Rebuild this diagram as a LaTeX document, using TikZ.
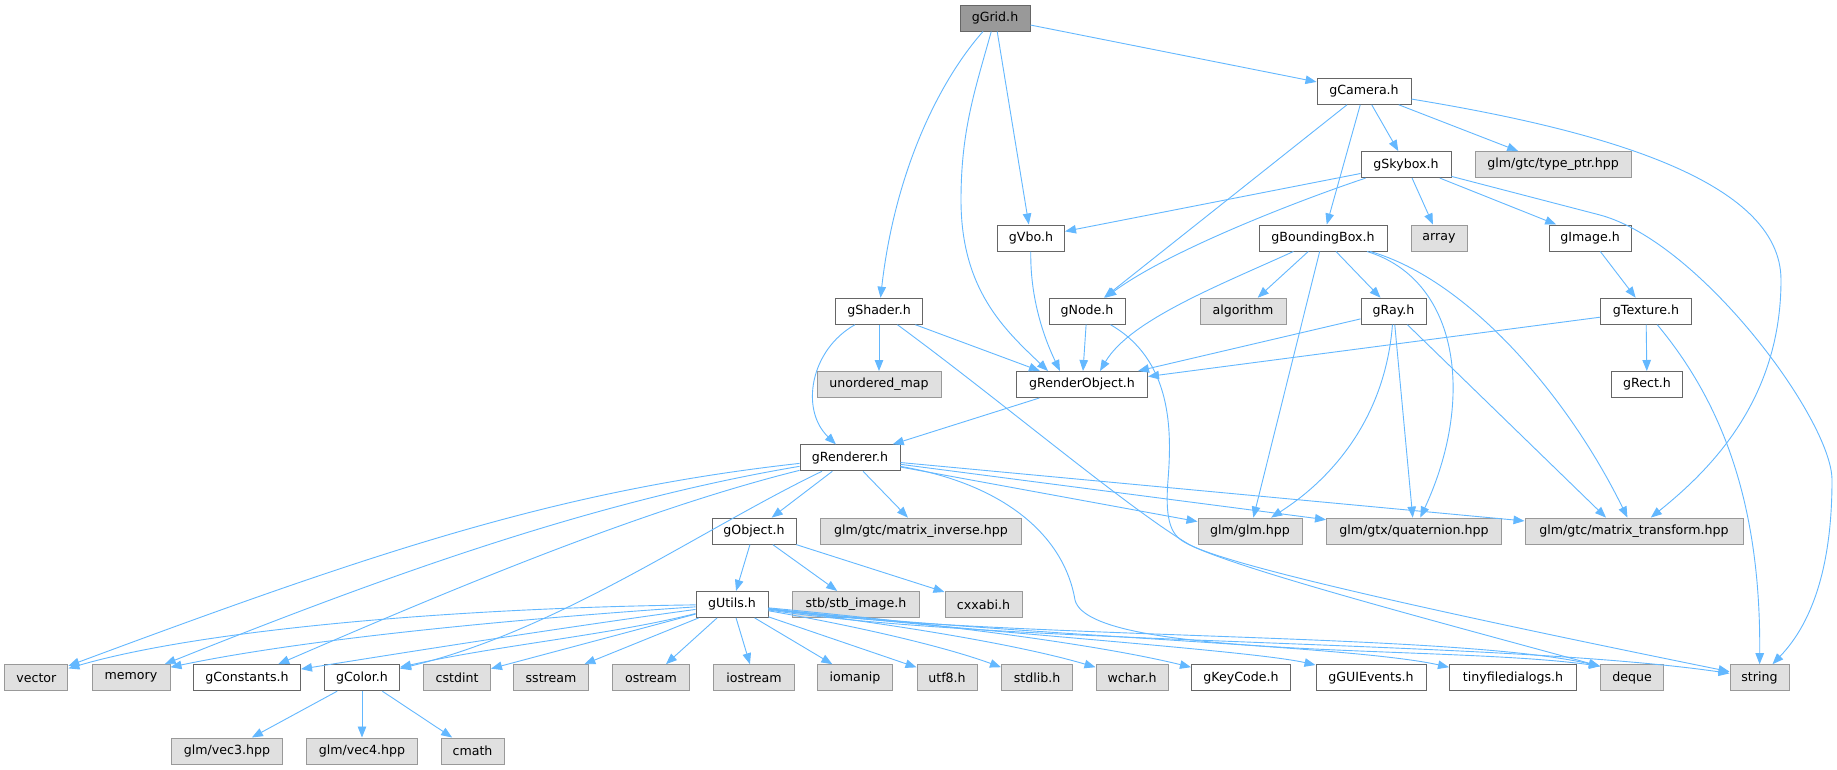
\documentclass[tikz,border=0pt]{standalone}
\usepackage{fontspec}
\setmainfont{DejaVu Sans}
\usetikzlibrary{arrows.meta}
\definecolor{edgec}{HTML}{63B8FF}
\definecolor{bord}{HTML}{666666}
\definecolor{gbord}{HTML}{999999}
\definecolor{gfill}{HTML}{E0E0E0}
\definecolor{rootfill}{HTML}{999999}
\begin{document}
\begin{tikzpicture}[x=1pt,y=-1pt,
 box/.style={draw=bord, fill=white, line width=1pt, minimum height=26pt, inner sep=0pt,
   font=\fontsize{12.6}{15}\selectfont, text=black, anchor=center},
 sys/.style={box, draw=gbord, fill=gfill},
 root/.style={box, fill=rootfill},
 e/.style={draw=edgec, line width=0.9pt, -{Triangle[length=11pt,width=8.5pt]}}]
\fill[white] (0,0) rectangle (1837,769);
\useasboundingbox (0,0) rectangle (1837,769);
% rank 0
\node[root, minimum width=70pt] (gGrid) at (995,18) {gGrid.h};
% rank 1
\node[box, minimum width=94pt] (gCamera) at (1364,91.3) {gCamera.h};
% rank 2
\node[box, minimum width=90pt] (gSkybox) at (1406,164.6) {gSkybox.h};
\node[sys, minimum width=156pt] (typeptr) at (1553,164.6) {glm/gtc/type\_ptr.hpp};
% rank 3
\node[box, minimum width=67pt] (gVbo) at (1031,238) {gVbo.h};
\node[box, minimum width=128pt] (gBB) at (1323,238) {gBoundingBox.h};
\node[sys, minimum width=56pt] (array) at (1439,238) {array};
\node[box, minimum width=82pt] (gImage) at (1590,238) {gImage.h};
% rank 4
\node[box, minimum width=87pt] (gShader) at (879,311.2) {gShader.h};
\node[box, minimum width=76pt] (gNode) at (1087,311.2) {gNode.h};
\node[sys, minimum width=86pt] (algorithm) at (1243,311.2) {algorithm};
\node[box, minimum width=65pt] (gRay) at (1393.5,311.2) {gRay.h};
\node[box, minimum width=91pt] (gTexture) at (1646,311.2) {gTexture.h};
% rank 5
\node[sys, minimum width=124pt] (umap) at (879,384.5) {unordered\_map};
\node[box, minimum width=131pt] (gRO) at (1082,384.5) {gRenderObject.h};
\node[box, minimum width=71pt] (gRect) at (1647,384.5) {gRect.h};
% rank 6
\node[box, minimum width=100pt] (gRenderer) at (850,457.8) {gRenderer.h};
% rank 7
\node[box, minimum width=84pt] (gObject) at (754,531.1) {gObject.h};
\node[sys, minimum width=201pt] (matinv) at (921,531.1) {glm/gtc/matrix\_inverse.hpp};
\node[sys, minimum width=104pt] (glmglm) at (1250,531.1) {glm/glm.hpp};
\node[sys, minimum width=175pt] (quat) at (1414,531.1) {glm/gtx/quaternion.hpp};
\node[sys, minimum width=218pt] (mattr) at (1634,531.1) {glm/gtc/matrix\_transform.hpp};
% rank 8
\node[box, minimum width=72pt] (gUtils) at (732,604.4) {gUtils.h};
\node[sys, minimum width=127pt] (stb) at (856,604.4) {stb/stb\_image.h};
\node[sys, minimum width=77pt] (cxxabi) at (983.5,604.4) {cxxabi.h};
% rank 9
\node[sys, minimum width=63pt] (vector) at (36.4,677.7) {vector};
\node[sys, minimum width=78pt] (memory) at (131,677.7) {memory};
\node[box, minimum width=107pt] (gConstants) at (247,677.7) {gConstants.h};
\node[box, minimum width=75pt] (gColor) at (362,677.7) {gColor.h};
\node[sys, minimum width=67pt] (cstdint) at (457,677.7) {cstdint};
\node[sys, minimum width=75pt] (sstream) at (551,677.7) {sstream};
\node[sys, minimum width=77pt] (ostream) at (651,677.7) {ostream};
\node[sys, minimum width=81pt] (iostream) at (754,677.7) {iostream};
\node[sys, minimum width=75pt] (iomanip) at (855,677.7) {iomanip};
\node[sys, minimum width=60pt] (utf8) at (947,677.7) {utf8.h};
\node[sys, minimum width=71pt] (stdlib) at (1037,677.7) {stdlib.h};
\node[sys, minimum width=72pt] (wchar) at (1132,677.7) {wchar.h};
\node[box, minimum width=99pt] (gKeyCode) at (1241,677.7) {gKeyCode.h};
\node[box, minimum width=110pt] (gGUIEvents) at (1371,677.7) {gGUIEvents.h};
\node[box, minimum width=127pt] (tiny) at (1513,677.7) {tinyfiledialogs.h};
\node[sys, minimum width=63pt] (deque) at (1632,677.7) {deque};
\node[sys, minimum width=59pt] (string) at (1759.5,677.7) {string};
% rank 10
\node[sys, minimum width=111pt] (vec3) at (227,751) {glm/vec3.hpp};
\node[sys, minimum width=111pt] (vec4) at (362,751) {glm/vec4.hpp};
\node[sys, minimum width=63pt] (cmath) at (472.5,751) {cmath};

% ---- edges ----
% gGrid
\draw[e] (gGrid) -- (gCamera);
\draw[e] (gGrid) .. controls (940,80) and (895,170) .. (gShader);
\draw[e] (gGrid) .. controls (975,90) and (961,130) .. (961,200) .. controls (961,290) and (1005,330) .. ([xshift=-34pt]gRO.north);
\draw[e] (gGrid) -- (gVbo);
% gCamera
\draw[e] (gCamera) -- (gSkybox);
\draw[e] (gCamera) -- (typeptr);
\draw[e] (gCamera) -- (gBB);
\draw[e] (gCamera) -- (gNode);
\draw[e] (gCamera) .. controls (1600,130) and (1781,180) .. (1781,280) .. controls (1781,400) and (1710,470) .. (mattr);
% gSkybox
\draw[e] (gSkybox) -- (gVbo);
\draw[e] (gSkybox) .. controls (1300,200) and (1170,250) .. (gNode);
\draw[e] (gSkybox) -- (array);
\draw[e] (gSkybox) -- (gImage);
\draw[e] (gSkybox) -- (1600,215) .. controls (1700,242) and (1832,420) .. (1832,480) .. controls (1832,560) and (1815,620) .. (string);
% gBoundingBox
\draw[e] (gBB) .. controls (1220,285) and (1130,320) .. ([xshift=18pt]gRO.north);
\draw[e] (gBB) -- (algorithm);
\draw[e] (gBB) -- (gRay);
\draw[e] (gBB) -- (glmglm);
\draw[e] (gBB) .. controls (1460,280) and (1475,400) .. (quat);
\draw[e] (gBB) .. controls (1470,280) and (1570,400) .. (mattr);
% gImage, gTexture
\draw[e] (gImage) -- (gTexture);
\draw[e] (gTexture) -- ([yshift=8pt]gRO.east);
\draw[e] (gTexture) -- (gRect);
\draw[e] (gTexture) .. controls (1720,400) and (1761,500) .. (string);
% gVbo
\draw[e] (gVbo) .. controls (1030,300) and (1045,340) .. ([xshift=-22pt]gRO.north);
% gShader
\draw[e] (gShader) .. controls (810,350) and (800,410) .. (gRenderer);
\draw[e] (gShader) -- (umap);
\draw[e] (gShader) -- ([xshift=-42pt]gRO.north);
\draw[e] (gShader) .. controls (1000,400) and (1130,510) .. (1190,545) .. controls (1240,570) and (1500,625) .. (string);
% gNode
\draw[e] (gNode) -- ([xshift=1pt]gRO.north);
\draw[e] (gNode) .. controls (1172,360) and (1172,430) .. (1168,480) .. controls (1164,530) and (1175,538) .. (1190,545) .. controls (1240,570) and (1450,625) .. ([yshift=-2pt]deque.north west);
% gRenderObject
\draw[e] (gRO) -- (gRenderer);
% gRay
\draw[e] (gRay) -- ([xshift=56pt]gRO.north);
\draw[e] (gRay) .. controls (1385,420) and (1330,480) .. (glmglm);
\draw[e] (gRay) -- (quat);
\draw[e] (gRay) -- ([xshift=-28pt]mattr.north);
% gRenderer
\draw[e] (gRenderer) -- (gObject);
\draw[e] (gRenderer) -- (matinv);
\draw[e] (gRenderer) -- (glmglm);
\draw[e] (gRenderer) -- (quat);
\draw[e] (gRenderer) -- (mattr);
\draw[e] (gRenderer) .. controls (1010,485) and (1065,540) .. (1075,600) .. controls (1090,660) and (1450,645) .. ([yshift=-2pt]deque.north west);
\draw[e] (gRenderer) .. controls (560,490) and (380,550) .. (vector);
\draw[e] (gRenderer) .. controls (600,500) and (400,570) .. (memory);
\draw[e] (gRenderer) .. controls (640,510) and (450,590) .. (gConstants);
\draw[e] (gRenderer) .. controls (700,530) and (560,630) .. (gColor);
% gObject
\draw[e] (gObject) -- (gUtils);
\draw[e] (gObject) -- (stb);
\draw[e] (gObject) -- (cxxabi);
% gUtils
\draw[e] (gUtils) .. controls (450,608) and (200,630) .. (vector);
\draw[e] (gUtils) .. controls (500,620) and (300,640) .. ([yshift=-3pt]memory.north east);
\draw[e] (gUtils) .. controls (560,628) and (420,650) .. (gConstants);
\draw[e] (gUtils) .. controls (610,635) and (500,645) .. ([yshift=-3pt]gColor.north east);
\draw[e] (gUtils) -- (cstdint);
\draw[e] (gUtils) -- (sstream);
\draw[e] (gUtils) -- (ostream);
\draw[e] (gUtils) -- (iostream);
\draw[e] (gUtils) -- (iomanip);
\draw[e] (gUtils) -- (utf8);
\draw[e] (gUtils) .. controls (850,625) and (940,645) .. ([yshift=-3pt]stdlib.north west);
\draw[e] (gUtils) .. controls (900,625) and (1020,645) .. ([yshift=-3pt]wchar.north west);
\draw[e] (gUtils) .. controls (950,625) and (1100,645) .. ([yshift=-3pt]gKeyCode.north west);
\draw[e] (gUtils) .. controls (950,630) and (1250,650) .. (gGUIEvents);
\draw[e] (gUtils) .. controls (1000,635) and (1350,645) .. ([yshift=-3pt]tiny.north west);
\draw[e] (gUtils) .. controls (1000,640) and (1450,632) .. ([yshift=-2pt]deque.north west);
\draw[e] (gUtils) .. controls (1000,645) and (1500,640) .. (string);
% gColor
\draw[e] (gColor) -- (vec3);
\draw[e] (gColor) -- (vec4);
\draw[e] (gColor) -- (cmath);
\end{tikzpicture}
\end{document}
